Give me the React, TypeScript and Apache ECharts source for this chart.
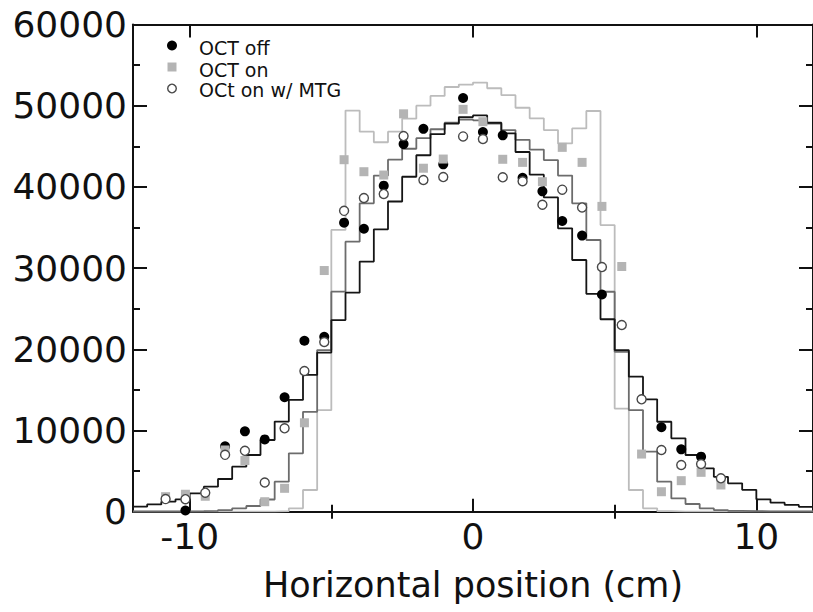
import React, { useEffect, useRef } from "react";
import * as echarts from "echarts";

// Histogram bins: 0.5 cm wide, from -12 cm to +12 cm (48 bins)
const HIST_START = -12;
const BIN_WIDTH = 0.5;

// Simulated profiles (step histograms)
const simOctOff = [
  620, 900, 1230, 1530, 2260, 3080, 4030, 5540, 6980, 8830, 11100, 13760,
  16840, 19600, 23600, 26970, 30800, 34780, 38200, 41250, 43900, 46500, 47800, 48600,
  48800, 47900, 46600, 44300, 41500, 38700, 34900, 31000, 26830, 23700, 19900, 16630,
  13840, 11080, 9040, 6980, 5340, 4300, 3500, 2700, 1520, 1110, 830, 600,
];
const simOctOnMtg = [
  30, 30, 40, 50, 70, 100, 200, 410, 700, 1500, 3700, 7190,
  12300, 19900, 27100, 33250, 37980, 41400, 43350, 44700, 46000, 47100, 47900, 48300,
  48200, 47800, 47000, 45800, 44600, 43300, 41400, 37980, 33460, 27090, 19700, 12520,
  7390, 3700, 1640, 950, 410, 200, 100, 70, 50, 40, 30, 30,
];
const simOctOn = [
  0, 0, 0, 0, 0, 0, 0, 0, 0, 0, 80, 410,
  2670, 12500, 34700, 49400, 46800, 45500, 46800, 48400, 50000, 51200, 52300, 52600,
  52850, 52150, 51300, 49750, 48450, 47000, 45350, 47200, 49350, 35300, 12700, 2670,
  410, 80, 0, 0, 0, 0, 0, 0, 0, 0, 0, 0,
];

// Measured points
const positions = [
  -10.85, -10.15, -9.45, -8.75, -8.05, -7.35, -6.65, -5.95, -5.25, -4.55,
  -3.85, -3.15, -2.45, -1.75, -1.05, -0.35, 0.35, 1.05, 1.75, 2.45,
  3.15, 3.85, 4.55, 5.25, 5.95, 6.65, 7.35, 8.05, 8.75,
];
const octOff: (number | null)[] = [
  null, 150, null, 8050, 9900, 8900, 14100, 21050, 21550, 35600,
  34850, 40150, 45270, 47150, 42780, 50950, 46750, 46350, 41130, 39450,
  35800, 34000, 26750, null, null, 10400, 7680, 6780, null,
];
const octOn: (number | null)[] = [
  1850, 2150, 1900, 7600, 6300, 1230, 2880, 10950, 29700, 43350,
  41870, 41460, 49000, 42300, 43430, 49550, 48030, 43400, 43020, 40640,
  44870, 43020, 37600, 30200, 7100, 2460, 3820, 4850, 3290,
];
const octOnMtg: (number | null)[] = [
  1550, 1540, 2340, 7000, 7500, 3600, 10270, 17330, 20900, 37050,
  38630, 39130, 46260, 40850, 41210, 46220, 45900, 41180, 40700, 37800,
  39660, 37470, 30130, 22990, 13840, 7600, 5750, 5870, 4110,
];

const legendNames = ["OCT off", "OCT on", "OCt on w/ MTG"];
const xMajorTicks = [-10, 0, 10];
const xMinorTicks = [-5, 5];

const FONT = "DejaVu Sans";
const INK = "#111111";

function stepData(values: number[]) {
  const pts: [number, number][] = values.map((v, i) => [HIST_START + i * BIN_WIDTH, v]);
  pts.push([HIST_START + values.length * BIN_WIDTH, values[values.length - 1]]);
  return pts;
}

function pointData(values: (number | null)[]) {
  const out: [number, number][] = [];
  values.forEach((v, i) => {
    if (v !== null) out.push([positions[i], v]);
  });
  return out;
}

export default function App() {
  const ref = useRef<HTMLDivElement>(null);

  useEffect(() => {
    if (!ref.current) return;
    const chart = echarts.init(ref.current, null, { renderer: "svg" });
    const axisLine = { show: true, onZero: false, lineStyle: { color: INK, width: 2 } };
    const tickLine = { color: INK, width: 2 };

    const xBase = { type: "value", min: -12, max: 12, splitLine: { show: false }, gridIndex: 0 };
    const yBase = {
      type: "value",
      min: 0,
      max: 60000,
      interval: 10000,
      splitLine: { show: false },
      minorSplitLine: { show: false },
      axisLine,
      axisTick: { show: true, inside: true, length: 14, lineStyle: tickLine },
      minorTick: { show: true, splitNumber: 2, length: 7, lineStyle: tickLine },
    };

    const option: any = {
      animation: false,
      backgroundColor: "#ffffff",
      grid: { left: 133, top: 24.5, width: 681.6, height: 487.2, containLabel: false },
      xAxis: [
        {
          ...xBase,
          position: "bottom",
          axisLine,
          axisTick: { show: true, inside: true, length: 13, customValues: xMajorTicks, lineStyle: tickLine },
          axisLabel: {
            show: true,
            customValues: xMajorTicks,
            fontSize: 36,
            fontFamily: FONT,
            color: INK,
            margin: 7,
            formatter: (v: number) => String(v),
          },
          name: "Horizontal position (cm)",
          nameLocation: "middle",
          nameGap: 56,
          nameTextStyle: { fontSize: 35, fontFamily: FONT, color: INK },
        },
        {
          ...xBase,
          position: "bottom",
          axisLine: { show: false },
          axisTick: { show: true, inside: true, length: 7, customValues: xMinorTicks, lineStyle: tickLine },
          axisLabel: { show: false },
        },
        {
          ...xBase,
          position: "top",
          axisLine,
          axisTick: { show: true, inside: true, length: 13, customValues: xMajorTicks, lineStyle: tickLine },
          axisLabel: { show: false },
        },
        {
          ...xBase,
          position: "top",
          axisLine: { show: false },
          axisTick: { show: true, inside: true, length: 7, customValues: xMinorTicks, lineStyle: tickLine },
          axisLabel: { show: false },
        },
      ],
      yAxis: [
        {
          ...yBase,
          position: "left",
          axisLabel: {
            show: true,
            fontSize: 36,
            fontFamily: FONT,
            color: INK,
            margin: 6,
            showMinLabel: true,
            showMaxLabel: true,
            formatter: (v: number) => String(v),
          },
        },
        {
          ...yBase,
          position: "right",
          axisLabel: { show: false },
        },
      ],
      series: [
        {
          type: "line",
          name: "sim OCT on",
          step: "end",
          data: stepData(simOctOn),
          showSymbol: false,
          symbol: "none",
          lineStyle: { color: "#bcbcbc", width: 1.8 },
          xAxisIndex: 0,
          yAxisIndex: 0,
          z: 2,
        },
        {
          type: "line",
          name: "sim OCT on w/ MTG",
          step: "end",
          data: stepData(simOctOnMtg),
          showSymbol: false,
          symbol: "none",
          lineStyle: { color: "#6c6c6c", width: 1.8 },
          xAxisIndex: 0,
          yAxisIndex: 0,
          z: 3,
        },
        {
          type: "line",
          name: "sim OCT off",
          step: "end",
          data: stepData(simOctOff),
          showSymbol: false,
          symbol: "none",
          lineStyle: { color: "#151515", width: 1.8 },
          xAxisIndex: 0,
          yAxisIndex: 0,
          z: 4,
        },
        {
          type: "scatter",
          name: legendNames[0],
          data: pointData(octOff),
          symbol: "circle",
          symbolSize: 10,
          itemStyle: { color: "#000000", opacity: 1 },
          z: 5,
        },
        {
          type: "scatter",
          name: legendNames[1],
          data: pointData(octOn),
          symbol: "rect",
          symbolSize: 9,
          itemStyle: { color: "#b4b4b4", opacity: 1 },
          z: 6,
        },
        {
          type: "scatter",
          name: legendNames[2],
          data: pointData(octOnMtg),
          symbol: "circle",
          symbolSize: 9,
          itemStyle: { color: "#ffffff", borderColor: "#474747", borderWidth: 1.4, opacity: 1 },
          z: 7,
        },
      ],
      graphic: [
        { type: "circle", shape: { cx: 172, cy: 45.5, r: 5 }, style: { fill: "#000000" }, z: 10 },
        { type: "rect", shape: { x: 167.5, y: 62.5, width: 9, height: 9 }, style: { fill: "#b4b4b4" }, z: 10 },
        {
          type: "circle",
          shape: { cx: 172, cy: 88.5, r: 4.3 },
          style: { fill: "#ffffff", stroke: "#474747", lineWidth: 1.4 },
          z: 10,
        },
        {
          type: "text",
          x: 199,
          y: 48,
          style: { text: legendNames[0], fontSize: 19, fontFamily: FONT, fill: INK, verticalAlign: "middle" },
          z: 10,
        },
        {
          type: "text",
          x: 199,
          y: 69.5,
          style: { text: legendNames[1], fontSize: 19, fontFamily: FONT, fill: INK, verticalAlign: "middle" },
          z: 10,
        },
        {
          type: "text",
          x: 199,
          y: 90,
          style: { text: legendNames[2], fontSize: 19, fontFamily: FONT, fill: INK, verticalAlign: "middle" },
          z: 10,
        },
      ],
    };

    chart.setOption(option);
    return () => chart.dispose();
  }, []);

  return (
    <div
      ref={ref}
      style={{ position: "absolute", left: 0, top: 0, width: 813, height: 612, background: "#ffffff" }}
    />
  );
}
